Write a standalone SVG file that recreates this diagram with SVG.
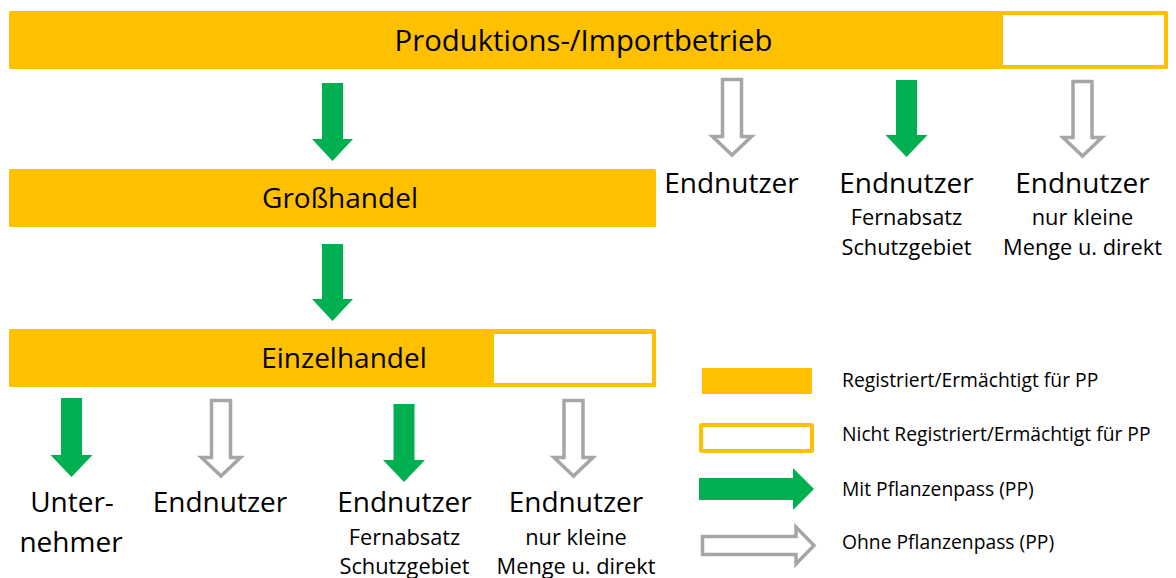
<svg xmlns="http://www.w3.org/2000/svg" width="1176" height="578" viewBox="0 0 1176 578">
  <style>
    .bar { fill: #FFC000; }
    .gap { fill: #FFFFFF; }
    .pp { fill: #00B050; }
    .nopp { fill: #FFFFFF; stroke: #A6A6A6; stroke-width: 3.5; stroke-linejoin: miter; }
    text { font-family: "Open Sans", "Noto Sans", "Liberation Sans", sans-serif; fill: #000000; }
    .big { font-size: 28px; text-anchor: middle; }
    .title { font-size: 29.3px; text-anchor: middle; }
    .sub { font-size: 21.8px; text-anchor: middle; }
    .leg { font-size: 19.3px; }
  </style>

  <rect width="1176" height="578" fill="#FFFFFF"/>

  <!-- Businesses -->
  <g id="produktion">
    <rect class="bar" x="9" y="11" width="1159" height="58" rx="1.5"/>
    <rect class="gap" x="1003" y="15" width="161" height="50"/>
    <text class="title" x="583.5" y="51">Produktions-/Importbetrieb</text>
  </g>

  <g id="grosshandel">
    <rect class="bar" x="9" y="169" width="647" height="58" rx="1.5"/>
    <text class="big" x="340" y="208">Großhandel</text>
  </g>

  <g id="einzelhandel">
    <rect class="bar" x="9" y="329" width="647" height="58" rx="1.5"/>
    <rect class="gap" x="494" y="334" width="158" height="49"/>
    <text class="big" x="344" y="368">Einzelhandel</text>
  </g>

  <!-- Recipients of the producer -->
  <g id="endnutzer-p1">
    <text class="big" x="731.5" y="193">Endnutzer</text>
  </g>
  <g id="endnutzer-p2">
    <text class="big" x="906.5" y="193">Endnutzer</text>
    <text class="sub" x="906.5" y="225">Fernabsatz</text>
    <text class="sub" x="906.5" y="255">Schutzgebiet</text>
  </g>
  <g id="endnutzer-p3">
    <text class="big" x="1082.5" y="193">Endnutzer</text>
    <text class="sub" x="1082.5" y="225">nur kleine</text>
    <text class="sub" x="1082.5" y="255">Menge u. direkt</text>
  </g>

  <!-- Recipients of the retailer -->
  <g id="unternehmer">
    <text class="big" x="72" y="512">Unter-</text>
    <text class="big" x="71" y="552">nehmer</text>
  </g>
  <g id="endnutzer-e1">
    <text class="big" x="220" y="512">Endnutzer</text>
  </g>
  <g id="endnutzer-e2">
    <text class="big" x="404.5" y="512">Endnutzer</text>
    <text class="sub" x="404.5" y="545">Fernabsatz</text>
    <text class="sub" x="404.5" y="574">Schutzgebiet</text>
  </g>
  <g id="endnutzer-e3">
    <text class="big" x="576" y="512">Endnutzer</text>
    <text class="sub" x="576" y="545">nur kleine</text>
    <text class="sub" x="576" y="574">Menge u. direkt</text>
  </g>

  <!-- Flows: solid green = with plant passport, hollow grey = without -->
  <g id="connectors">
    <path class="pp" d="M322,83 H343 V139 H353 L332.5,161 L312,139 H322 Z"/>
    <path class="pp" d="M322,244 H343 V299 H353 L332.5,321 L312,299 H322 Z"/>

    <path class="nopp" d="M722.5,79.5 H741.5 V136.5 H751.5 L732,155 L712.5,136.5 H722.5 Z"/>
    <path class="pp" d="M896,80 H917 V135 H927.5 L906.5,157 L885.5,135 H896 Z"/>
    <path class="nopp" d="M1073,81.5 H1092 V137.5 H1102 L1082.5,156 L1063,137.5 H1073 Z"/>

    <path class="pp" d="M61,398 H82 V455 H92.5 L71.5,477 L50.5,455 H61 Z"/>
    <path class="nopp" d="M211.5,400.5 H230.5 V457.5 H240.5 L221,476 L201.5,457.5 H211.5 Z"/>
    <path class="pp" d="M393.5,404 H414.5 V460 H425 L404,482 L383,460 H393.5 Z"/>
    <path class="nopp" d="M564,400.5 H583 V457.5 H593 L573.5,476 L554,457.5 H564 Z"/>
  </g>

  <!-- Legend -->
  <g id="legende">
    <rect class="bar" x="702" y="368" width="110" height="26"/>
    <text class="leg" x="842" y="387">Registriert/Ermächtigt für PP</text>

    <rect x="701" y="425" width="111" height="26" fill="#FFFFFF" stroke="#FFC000" stroke-width="4" rx="1"/>
    <text class="leg" x="842" y="441">Nicht Registriert/Ermächtigt für PP</text>

    <path class="pp" d="M699,478 H793 V468 L814,489 L793,510 V500 H699 Z"/>
    <text class="leg" x="842" y="496">Mit Pflanzenpass (PP)</text>

    <path class="nopp" d="M702.5,536.5 H796 V527 L814,545.5 L796,564 V554.5 H702.5 Z"/>
    <text class="leg" x="842" y="549">Ohne Pflanzenpass (PP)</text>
  </g>
</svg>
